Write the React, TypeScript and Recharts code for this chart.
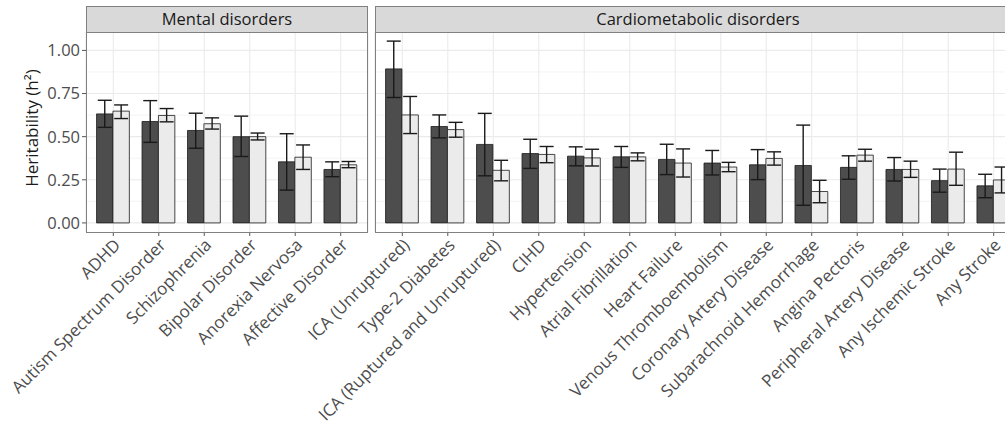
import React from 'react';
import { BarChart, Bar, XAxis, YAxis, CartesianGrid, ErrorBar } from 'recharts';

const mentalCategories = ['ADHD', 'Autism Spectrum Disorder', 'Schizophrenia', 'Bipolar Disorder', 'Anorexia Nervosa', 'Affective Disorder'];
const mentalDark = [0.632, 0.588, 0.536, 0.5, 0.354, 0.31];
const mentalDarkLo = [0.554, 0.467, 0.433, 0.385, 0.19, 0.268];
const mentalDarkHi = [0.711, 0.709, 0.636, 0.619, 0.517, 0.354];
const mentalLight = [0.648, 0.623, 0.575, 0.5, 0.381, 0.337];
const mentalLightLo = [0.605, 0.586, 0.544, 0.481, 0.31, 0.32];
const mentalLightHi = [0.684, 0.663, 0.609, 0.521, 0.452, 0.356];

const cardioCategories = ['ICA (Unruptured)', 'Type-2 Diabetes', 'ICA (Ruptured and Unruptured)', 'CIHD', 'Hypertension', 'Atrial Fibrillation', 'Heart Failure', 'Venous Thromboembolism', 'Coronary Artery Disease', 'Subarachnoid Hemorrhage', 'Angina Pectoris', 'Peripheral Artery Disease', 'Any Ischemic Stroke', 'Any Stroke'];
const cardioDark = [0.893, 0.559, 0.455, 0.402, 0.387, 0.383, 0.368, 0.347, 0.337, 0.333, 0.322, 0.31, 0.245, 0.215];
const cardioDarkLo = [0.727, 0.493, 0.273, 0.316, 0.331, 0.322, 0.28, 0.278, 0.251, 0.102, 0.253, 0.243, 0.178, 0.146];
const cardioDarkHi = [1.054, 0.626, 0.635, 0.485, 0.441, 0.443, 0.456, 0.42, 0.425, 0.567, 0.389, 0.379, 0.312, 0.282];
const cardioLight = [0.626, 0.541, 0.305, 0.397, 0.377, 0.383, 0.347, 0.324, 0.374, 0.182, 0.393, 0.31, 0.312, 0.249];
const cardioLightLo = [0.518, 0.497, 0.244, 0.349, 0.33, 0.36, 0.266, 0.297, 0.335, 0.117, 0.358, 0.264, 0.218, 0.174];
const cardioLightHi = [0.733, 0.583, 0.363, 0.443, 0.427, 0.406, 0.429, 0.351, 0.412, 0.247, 0.427, 0.358, 0.41, 0.324];

const panelTitles = ['Mental disorders', 'Cardiometabolic disorders'];
const yTicks = [0, 0.25, 0.5, 0.75, 1];
const yMinorTicks = [0.125, 0.375, 0.625, 0.875];
const yDomain = [-0.0527, 1.1068];
const yTitle = 'Heritability (h²)';

function buildRows(cats: string[], d: number[], dLo: number[], dHi: number[], l: number[], lLo: number[], lHi: number[]) {
  return cats.map((name, i) => ({
    name,
    dark: d[i],
    darkErr: [d[i] - dLo[i], dHi[i] - d[i]],
    light: l[i],
    lightErr: [l[i] - lLo[i], lHi[i] - l[i]],
  }));
}

const mentalData = buildRows(mentalCategories, mentalDark, mentalDarkLo, mentalDarkHi, mentalLight, mentalLightLo, mentalLightHi);
const cardioData = buildRows(cardioCategories, cardioDark, cardioDarkLo, cardioDarkHi, cardioLight, cardioLightLo, cardioLightHi);

const FONT = "'Open Sans', 'Noto Sans', sans-serif";
const TEXT_GREY = '#4d4d4d';
const BORDER = '#808080';
const TICK = '#555555';
const GRID = '#ebebeb';

function AngledTick(props: any) {
  const { x, y, payload } = props;
  return (
    <text
      x={x}
      y={y}
      transform={`rotate(-45, ${x}, ${y})`}
      textAnchor="end"
      dy="0.68em"
      fontSize={17}
      fill={TEXT_GREY}
      fontFamily={FONT}
    >
      {payload.value}
    </text>
  );
}

function Panel({ data, width, left, marginLeft, showY }: any) {
  return (
    <div style={{ position: 'absolute', left, top: 0 }}>
      <BarChart
        width={width}
        height={427}
        data={data}
        margin={{ top: 32, right: 5, bottom: 5, left: marginLeft }}
        barGap={0}
        barSize={16.4}
      >
        <CartesianGrid horizontalValues={yMinorTicks} vertical={false} stroke={GRID} strokeWidth={0.6} />
        <CartesianGrid horizontalValues={yTicks} stroke={GRID} strokeWidth={1.1} />
        <XAxis
          dataKey="name"
          type="category"
          height={190}
          interval={0}
          padding={{ left: 4.55, right: 4.55 }}
          axisLine={false}
          tickLine={{ stroke: TICK }}
          tickSize={4}
          tickMargin={2}
          tick={<AngledTick />}
        />
        <YAxis
          type="number"
          domain={yDomain}
          ticks={yTicks}
          allowDataOverflow
          hide={!showY}
          width={50}
          axisLine={false}
          tickLine={{ stroke: TICK }}
          tickSize={4}
          tickMargin={2}
          tickFormatter={(v: number) => v.toFixed(2)}
          tick={{ fill: TEXT_GREY, fontSize: 16.5, fontFamily: FONT }}
        />
        <Bar dataKey="dark" fill="#4d4d4d" stroke="#1a1a1a" strokeWidth={0.8} isAnimationActive={false}>
          <ErrorBar dataKey="darkErr" width={7} stroke="#1a1a1a" strokeWidth={1.4} />
        </Bar>
        <Bar dataKey="light" fill="#ebebeb" stroke="#1a1a1a" strokeWidth={0.8} isAnimationActive={false}>
          <ErrorBar dataKey="lightErr" width={7} stroke="#1a1a1a" strokeWidth={1.4} />
        </Bar>
      </BarChart>
    </div>
  );
}

function Strip({ left, width, title }: any) {
  return (
    <>
      <div
        style={{
          position: 'absolute', left, top: 6, width, height: 27, boxSizing: 'border-box',
          background: '#d9d9d9', border: `1px solid ${BORDER}`, display: 'flex', alignItems: 'center',
          justifyContent: 'center', fontFamily: FONT, fontSize: 16.5, color: '#1a1a1a', lineHeight: 1,
        }}
      >
        {title}
      </div>
      <div
        style={{
          position: 'absolute', left, top: 32, width, height: 201, boxSizing: 'border-box',
          border: `1px solid ${BORDER}`, pointerEvents: 'none',
        }}
      />
    </>
  );
}

export default function App() {
  return (
    <div style={{ position: 'absolute', left: 0, top: 0, width: 1005, height: 427, overflow: 'hidden', background: '#fff', fontFamily: FONT }}>
      <Panel data={mentalData} width={373} left={0} marginLeft={36} showY />
      <Panel data={cardioData} width={746} left={280} marginLeft={95} showY={false} />
      <Strip left={86} width={282} title={panelTitles[0]} />
      <Strip left={375} width={646} title={panelTitles[1]} />
      <svg style={{ position: 'absolute', left: 0, top: 0 }} width={60} height={240}>
        <text
          x={0}
          y={0}
          transform="translate(38, 128) rotate(-90)"
          textAnchor="middle"
          fontSize={17}
          fill="#1a1a1a"
          fontFamily={FONT}
        >
          {yTitle}
        </text>
      </svg>
    </div>
  );
}
